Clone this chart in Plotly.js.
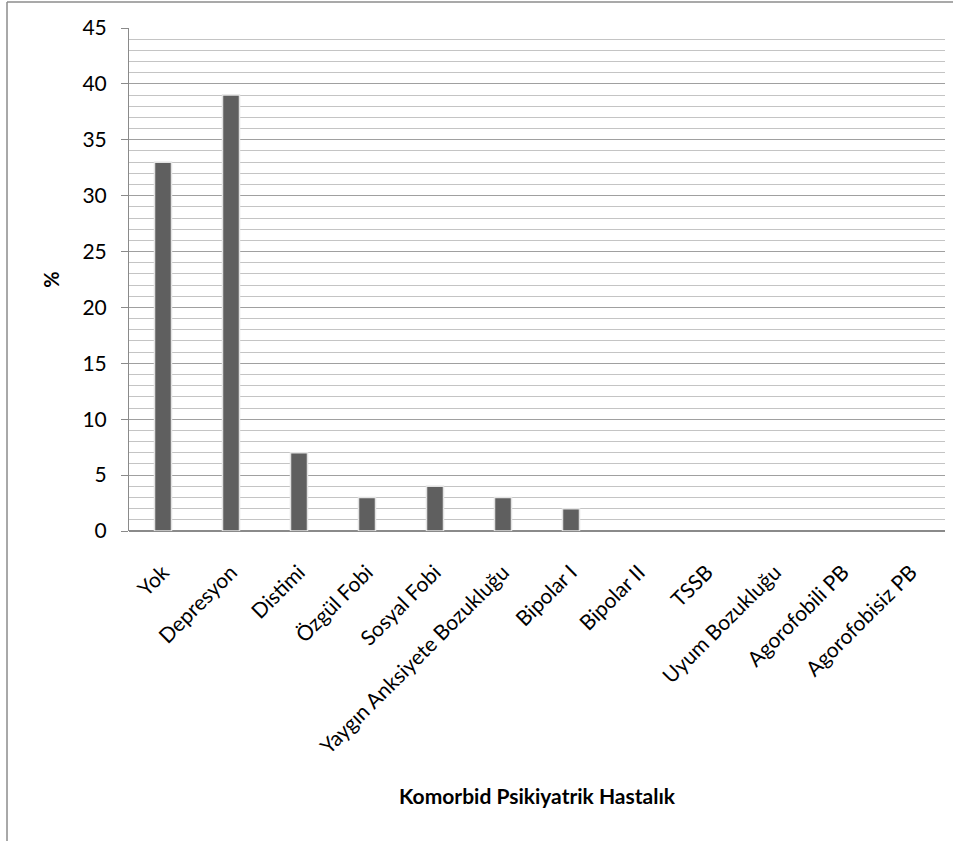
<!DOCTYPE html>
<html>
<head>
<meta charset="utf-8">
<script src="https://cdn.plot.ly/plotly-3.0.1.min.js"></script>
<style>html,body{margin:0;padding:0;background:#fff;}#chart{width:963px;height:841px;}</style>
</head>
<body>
<div id="chart"></div>
<script>
const categories = ["Yok", "Depresyon", "Distimi", "Özgül Fobi", "Sosyal Fobi", "Yaygın Anksiyete Bozukluğu", "Bipolar I", "Bipolar II", "TSSB", "Uyum Bozukluğu", "Agorofobili PB", "Agorofobisiz PB"];
const values = [33, 39, 7, 3, 4, 3, 2, 0, 0, 0, 0, 0];
const yTicks = [0, 5, 10, 15, 20, 25, 30, 35, 40, 45];

const font = "Lato, 'Open Sans', sans-serif";
const trace = {
  type: "bar",
  x: categories,
  y: values,
  marker: {color: "#5f5f5f", line: {color: "#e2e2e2", width: values.map(v => v > 0 ? 1.5 : 0)}},
  hoverinfo: "x+y"
};
const layout = {
  width: 963, height: 841,
  margin: {l: 129, r: 18, t: 28, b: 310},
  paper_bgcolor: "#fff", plot_bgcolor: "#fff",
  showlegend: false,
  bargap: 0.75,
  font: {family: font, color: "#000"},
  xaxis: {
    type: "category",
    tickangle: -45,
    tickfont: {size: 21, family: font},
    ticklabelstandoff: 24,
    showline: false, ticks: "",
    showgrid: false,
    title: {text: "<b>Komorbid Psikiyatrik Hastalık</b>", font: {size: 21, family: font}, standoff: 32}
  },
  yaxis: {
    range: [0, 45],
    tickvals: yTicks,
    tickfont: {size: 21, family: font},
    ticks: "outside", ticklen: 7, tickcolor: "#8a8a8a",
    ticklabelstandoff: 10,
    showline: true, linecolor: "#8a8a8a", linewidth: 1,
    showgrid: true, gridcolor: "#a0a0a0", gridwidth: 1,
    zeroline: true, zerolinecolor: "#8a8a8a", zerolinewidth: 1.5,
    minor: {dtick: 1, showgrid: true, gridcolor: "#c4c4c4", gridwidth: 1, ticks: ""},
    title: {text: "<b>%</b>", font: {size: 20, family: font}, standoff: 17}
  },
  shapes: [
    {type: "line", xref: "paper", yref: "paper", x0: -0.1495, x1: 1.0098, y0: 1.0517, y1: 1.0517, line: {color: "#8c8c8c", width: 1.5}},
    {type: "line", xref: "paper", yref: "paper", x0: -0.1495, x1: -0.1495, y0: 1.0517, y1: -0.65, line: {color: "#8c8c8c", width: 1.5}}
  ]
};
Plotly.newPlot("chart", [trace], layout, {displayModeBar: false, staticPlot: true});
</script>
</body>
</html>
